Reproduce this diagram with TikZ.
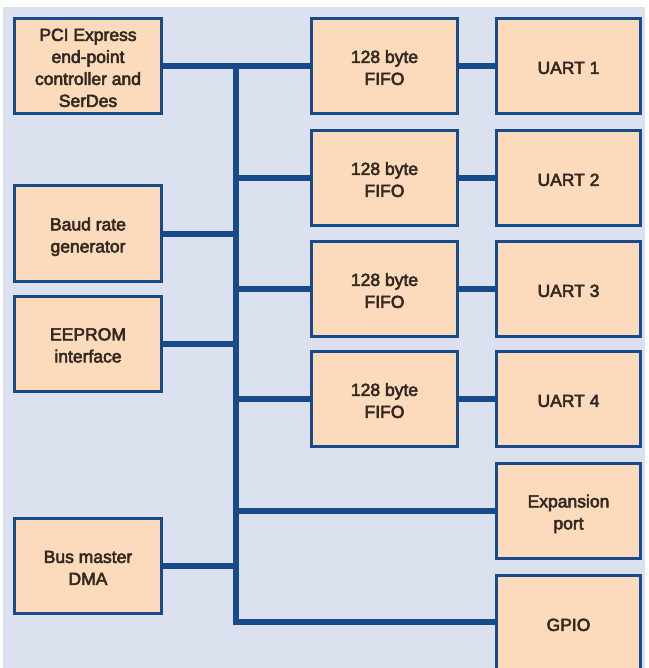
\documentclass[tikz,border=0pt]{standalone}
\usepackage{fontspec}
\setmainfont{Liberation Sans}
\newfontfamily\blkfont[FakeBold=3.2]{Liberation Sans}
\definecolor{bgc}{RGB}{219,225,238}
\definecolor{boxfill}{RGB}{251,219,188}
\definecolor{boxline}{RGB}{24,74,138}
\definecolor{txt}{RGB}{52,40,32}
\newcommand{\blktext}[1]{\raisebox{-3.5pt}[\height][\depth]{\begin{tabular}{@{}c@{}}#1\end{tabular}}}
\begin{document}
\begin{tikzpicture}[x=1pt,y=-1pt,
  blk/.style={draw=boxline, fill=boxfill, line width=3pt, align=center,
    text=txt, font=\blkfont\fontsize{17.5}{22}\selectfont, inner sep=0pt},
  leftblk/.style={blk, minimum width=147pt, minimum height=95pt},
  fifoblk/.style={blk, minimum width=146pt, minimum height=95pt},
  uartblk/.style={blk, minimum width=144pt, minimum height=95pt},
  wire/.style={draw=boxline, line width=6pt, line join=miter}]
\useasboundingbox (0,0) rectangle (648,668);
\clip (0,0) rectangle (648,668);
\fill[white] (0,0) rectangle (648,668);
\fill[bgc] (3,7) rectangle (645,668);

\node[leftblk] (pci) at (88,66) {\blktext{PCI Express\\end-point\\controller and\\SerDes}};
\node[leftblk] (baud) at (88,233.5) {\blktext{Baud rate\\generator}};
\node[leftblk] (eeprom) at (88,343.5) {\blktext{EEPROM\\interface}};
\node[leftblk] (dma) at (88,566) {\blktext{Bus master\\DMA}};

\node[fifoblk] (f1) at (384.5,66) {\blktext{128 byte\\FIFO}};
\node[fifoblk] (f2) at (384.5,178) {\blktext{128 byte\\FIFO}};
\node[fifoblk] (f3) at (384.5,289) {\blktext{128 byte\\FIFO}};
\node[fifoblk] (f4) at (384.5,399) {\blktext{128 byte\\FIFO}};

\node[uartblk] (u1) at (568.5,66) {\blktext{UART 1}};
\node[uartblk] (u2) at (568.5,178) {\blktext{UART 2}};
\node[uartblk] (u3) at (568.5,289) {\blktext{UART 3}};
\node[uartblk] (u4) at (568.5,399) {\blktext{UART 4}};
\node[uartblk] (exp) at (568.5,510.5) {\blktext{Expansion\\port}};
\node[uartblk] (gpio) at (568.5,623) {\blktext{GPIO}};

\coordinate (bustop) at (236,66);
\coordinate (busbot) at (236,622);

\path[wire] (pci.east) -- (f1.west);
\path[wire] (bustop) -- (busbot) -- (busbot -| gpio.west);
\path[wire] (baud.east) -- (baud.east -| bustop);
\path[wire] (eeprom.east) -- (eeprom.east -| bustop);
\path[wire] (dma.east) -- (dma.east -| bustop);
\path[wire] (bustop |- f2.west) -- (f2.west);
\path[wire] (bustop |- f3.west) -- (f3.west);
\path[wire] (bustop |- f4.west) -- (f4.west);
\path[wire] (bustop |- exp.west) -- (exp.west);
\path[wire] (f1.east) -- (u1.west);
\path[wire] (f2.east) -- (u2.west);
\path[wire] (f3.east) -- (u3.west);
\path[wire] (f4.east) -- (u4.west);
\end{tikzpicture}
\end{document}
